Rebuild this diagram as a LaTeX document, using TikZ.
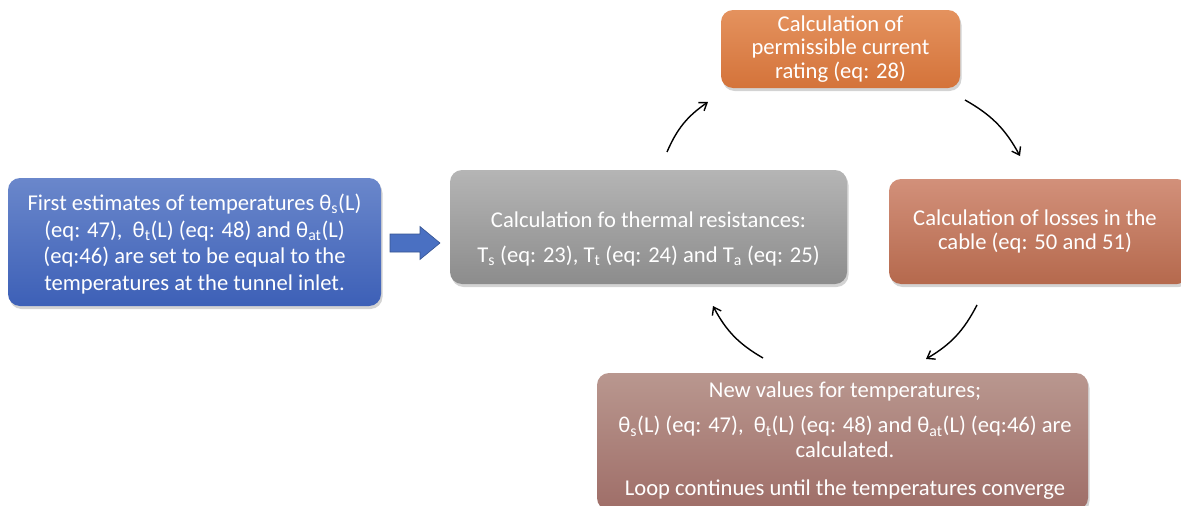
\documentclass[tikz,border=0pt]{standalone}
\usepackage{fontspec}
\setmainfont{Carlito}
\usetikzlibrary{shadows,arrows.meta}
\definecolor{blueT}{HTML}{6A87CB}\definecolor{blueB}{HTML}{3D60B7}
\definecolor{grayT}{HTML}{B5B5B5}\definecolor{grayB}{HTML}{8C8C8C}
\definecolor{orT}{HTML}{E4925E}\definecolor{orB}{HTML}{D4733A}
\definecolor{lsT}{HTML}{D2907A}\definecolor{lsB}{HTML}{B5694D}
\definecolor{nvT}{HTML}{B9978F}\definecolor{nvB}{HTML}{9F6E68}
\definecolor{arrowblue}{HTML}{4A70C2}
\tikzset{
  box/.style={rounded corners=12pt, inner sep=0pt,
    drop shadow={opacity=0.35, shadow xshift=1.5pt, shadow yshift=-3pt}},
  txt/.style={text=white, align=center, inner sep=0pt, font=\fontsize{22.6}{26}\selectfont},
  loop/.style={-{Straight Barb[length=7pt,width=10pt]}, line width=1.4pt, bend left=16},
}
\begin{document}
\begin{tikzpicture}[x=1pt,y=-1pt]
\useasboundingbox (0,0) rectangle (1181,506);
\clip (0,0) rectangle (1181,506);
\node[box, top color=blueT, bottom color=blueB, minimum width=373pt, minimum height=128pt] (first) at (194.5,242) {};
\node[txt, font=\fontsize{22.6}{26.5}\selectfont] (firstt) at (194.5,244)
 {First estimates of temperatures θ\textsubscript{s}(L)\\(eq: 47),~ θ\textsubscript{t}(L) (eq: 48) and θ\textsubscript{at}(L)\\(eq:46) are set to be equal to the\\temperatures at the tunnel inlet.};
\node[box, top color=grayT, bottom color=grayB, minimum width=397pt, minimum height=114pt] (therm) at (648.5,227) {};
\node[txt] (thermt) at (648.5,239)
 {Calculation fo thermal resistances:\\[9pt]T\textsubscript{s} (eq: 23), T\textsubscript{t} (eq: 24) and T\textsubscript{a} (eq: 25)};
\node[box, top color=orT, bottom color=orB, minimum width=239pt, minimum height=78pt] (curr) at (840.5,49) {};
\node[txt, font=\fontsize{22.6}{23.5}\selectfont] (currt) at (840.5,49)
 {Calculation of\\permissible current\\rating (eq: 28)};
\node[box, top color=lsT, bottom color=lsB, minimum width=300pt, minimum height=105pt] (loss) at (1039,231.5) {};
\node[txt, font=\fontsize{22.6}{24}\selectfont] (losst) at (1035,231)
 {Calculation of losses in the\\cable (eq: 50 and 51)};
\node[box, top color=nvT, bottom color=nvB, minimum width=491pt, minimum height=137pt] (newv) at (842.5,441.5) {};
\node[txt, font=\fontsize{22.6}{25}\selectfont, anchor=north] (newvt) at (845,382)
 {New values for temperatures;\\[10pt]θ\textsubscript{s}(L) (eq: 47),~ θ\textsubscript{t}(L) (eq: 48) and θ\textsubscript{at}(L) (eq:46) are\\calculated.\\[13pt]Loop continues until the temperatures converge};
\fill[arrowblue, draw=arrowblue!75!black, line width=0.6pt]
  (390,234) -- (420,234) -- (420,226.5) -- (440,243) -- (420,259.5) -- (420,252) -- (390,252) -- cycle;
\coordinate (a1s) at (667,152); \coordinate (a1e) at (708,102);
\coordinate (a2s) at (965,100); \coordinate (a2e) at (1020,156);
\coordinate (a3s) at (977,305); \coordinate (a3e) at (926,359);
\coordinate (a4s) at (763,358); \coordinate (a4e) at (713,306);
\draw[loop] (a1s) to (a1e);
\draw[loop] (a2s) to (a2e);
\draw[loop] (a3s) to (a3e);
\draw[loop] (a4s) to (a4e);
\end{tikzpicture}
\end{document}
